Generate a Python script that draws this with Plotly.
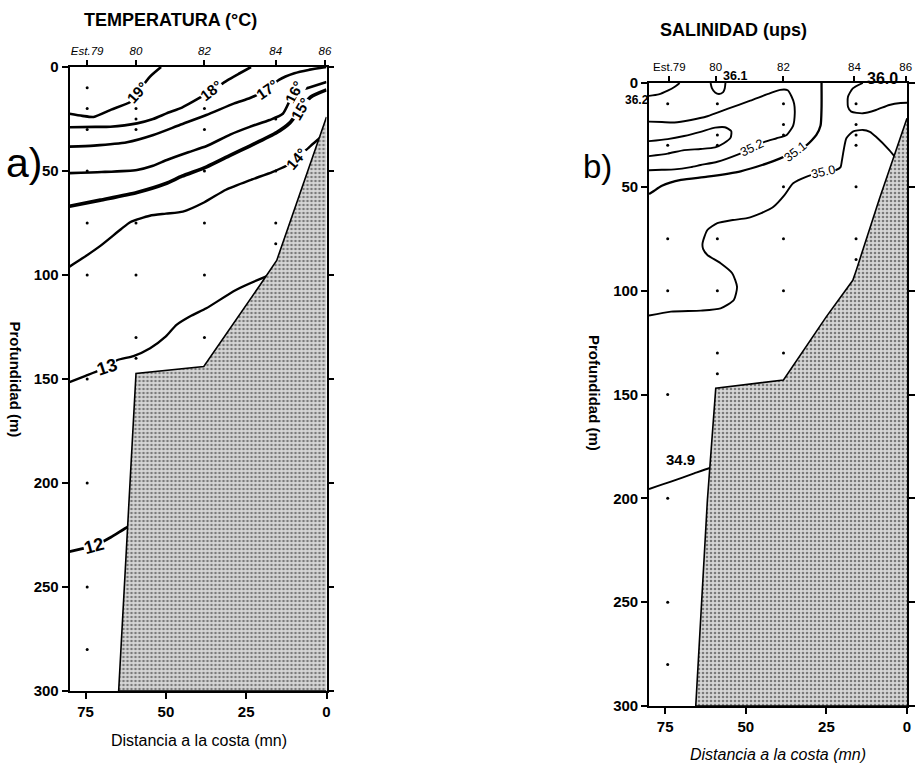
import plotly.graph_objects as go

W, H = 917, 764

# ---------------- stations ----------------
STATION_DIST_A = [74.5, 59.3, 38.0, 15.8, 0.5]
STATION_DIST_B = [73.7, 59.3, 38.3, 16.3, 0.4]
STATION_LABELS = ["Est.79", "80", "82", "84", "86"]

# sampled depths (distance to coast nm, depth m)
SAMPLE_A_DIST = [74.5] * 10 + [59.3] * 7 + [38.0] * 6 + [15.8] * 4
SAMPLE_A_DEPTH = [10, 20, 30, 50, 75, 100, 150, 200, 250, 280,
                  20, 25, 30, 75, 100, 130, 140,
                  20, 30, 50, 75, 100, 130,
                  25, 50, 75, 85]
SAMPLE_B_DIST = [74.2] * 8 + [58.8] * 7 + [38.3] * 7 + [15.8] * 7
SAMPLE_B_DEPTH = [10, 30, 75, 100, 150, 200, 250, 280,
                  10, 25, 30, 75, 100, 130, 140,
                  10, 20, 25, 50, 75, 100, 130,
                  10, 20, 25, 30, 50, 75, 85]

# ---------------- bottom profile ----------------
BOTTOM_A_DIST = [0, 7.4, 15.5, 21, 38.2, 59.3, 61.8, 64.7, 0]
BOTTOM_A_DEPTH = [24, 56.7, 93, 105.5, 144, 147.3, 221, 300, 300]
BOTTOM_B_DIST = [0, 8.6, 15.7, 16.8, 25, 38.3, 59.3, 61.9, 65.5, 0]
BOTTOM_B_DEPTH = [17, 56, 90, 95, 112.5, 143, 147, 201, 300, 300]

# ---------------- isotherms (°C) ----------------
T19_DIST = [80, 76, 72.5, 67, 61, 58.9, 55, 51.5]
T19_DEPTH = [22.5, 23.5, 24, 20.5, 16.7, 12.5, 4.7, 0]
T18_DIST = [80, 72, 67.3, 59, 54, 49.8, 45, 41.6, 35.9, 31, 27, 23.5]
T18_DEPTH = [29, 28.8, 28.7, 27.1, 25, 22.3, 19.5, 16.7, 11.5, 6.5, 3, 0]
T17_DIST = [80, 72.4, 62.1, 53.9, 45.7, 37.4, 28.7, 23.8, 18.5, 14.8, 10, 5.6, 0]
T17_DEPTH = [38.3, 37.8, 36.2, 32.7, 27.9, 23.1, 17.5, 14.9, 11, 6.2, 3, 1.4, 0]
T16_DIST = [80, 70, 59, 54, 49.7, 43, 37.3, 30, 23.9, 17.7, 13.6, 9.9, 5.6, 0]
T16_DEPTH = [51, 50.5, 49.5, 47.5, 44.7, 41, 38, 32.5, 28.8, 25.5, 22.5, 12, 10, 7.2]
T15_DIST = [80, 70.4, 59, 50, 45, 37.3, 30, 23.9, 15.5, 11.5, 8, 4.9, 0]
T15_DEPTH = [67, 64, 60.3, 56, 52.5, 48, 42.5, 38, 31.5, 27, 20, 14.4, 11]
T14_DIST = [80, 76, 70.4, 64, 61, 55, 50, 44.7, 38, 31.3, 24, 16.9, 12.5, 9.3, 5, 2]
T14_DEPTH = [96, 92, 86, 78, 74.5, 71.5, 70.5, 69.5, 65, 59, 54.5, 50.5, 47.5, 44, 38, 34]
T13_DIST = [80, 75, 70.4, 68.3, 65.2, 60.1, 54.9, 50, 46.7, 42, 37.4, 28.2, 18.9, 15]
T13_DEPTH = [151.5, 148.5, 145.7, 144.2, 141, 139, 135.2, 129.5, 124, 119.5, 116, 107.2, 100.8, 98.5]
T12_DIST = [80, 76, 72.4, 67, 61.8, 60]
T12_DEPTH = [233, 231.5, 230.3, 226, 221, 220]

TEMP_LINES = [
    (T19_DIST, T19_DEPTH, 2.6), (T18_DIST, T18_DEPTH, 2.6), (T17_DIST, T17_DEPTH, 2.6),
    (T16_DIST, T16_DEPTH, 2.6), (T15_DIST, T15_DEPTH, 3.6), (T14_DIST, T14_DEPTH, 2.4),
    (T13_DIST, T13_DEPTH, 2.3), (T12_DIST, T12_DEPTH, 2.8),
]

TEMP_LABELS = ["19°", "18°", "17°", "16°", "15°", "14°", "13", "12"]
TEMP_LABEL_DIST = [58.9, 35.9, 18.5, 9.9, 8.0, 9.3, 68.3, 72.4]
TEMP_LABEL_DEPTH = [12.3, 11.5, 11.0, 12.0, 20.0, 44.0, 144.2, 230.3]
TEMP_LABEL_ANGLE = [-48, -38, -35, -64, -60, -50, -18, -15]
TEMP_LABEL_SIZE = [15, 15, 15, 15, 15, 15, 18, 18]

# ---------------- isohalines (ups) ----------------
S362_DIST = [80, 77, 74.2, 72, 70.5]
S362_DEPTH = [6.2, 5.5, 3.7, 1.8, 0]
S361_DIST = [60.9, 60.5, 59.5, 58.3, 57, 56.5, 56.3]
S361_DEPTH = [0, 2.5, 4.6, 5.3, 4.4, 2.5, 0]
S353_DIST = [80, 74.2, 69.1, 64, 59.5, 56.5, 54.5, 54.7, 56.8, 59.5, 64, 69.1, 74.2, 80]
S353_DEPTH = [28, 27, 25.5, 23.5, 21.5, 21.3, 23.2, 26.3, 29, 31, 31.8, 32.3, 34, 35.2]
S352_DIST = [80, 76, 72.1, 67, 61.9, 55.7, 48.6, 42.4, 39.3, 37, 35.8, 35.0, 34.8, 35.3,
             37.3, 40.4, 44, 48.1, 52.1, 58.8, 64, 67, 72.1, 76, 80]
S352_DEPTH = [18.6, 18.8, 19, 17.8, 16, 12.5, 8.5, 4.9, 3.3, 3.5, 6.5, 10, 14.6, 20.5,
              25, 26.6, 28.2, 31.5, 34.2, 37.9, 39.5, 40.5, 41.6, 41.8, 42]
S351_DIST = [80, 78.5, 76, 70.1, 61.9, 51.6, 43.4, 39.3, 34.7, 31.1, 28.1, 26.8, 26.5, 26.5]
S351_DEPTH = [53.5, 52, 49.5, 46.7, 45.1, 42.5, 38.7, 36.3, 33, 29.9, 25, 20.5, 12, 0]
S350_DIST = [80, 73.2, 63.9, 57.8, 53.7, 52.7, 54.2, 57.8, 61.9, 63.2, 63.4, 61.9, 58.8, 54,
             49.6, 45, 41.4, 38, 35.3, 31.1, 26, 22, 20.6, 20.2, 19.6, 18.8, 16.8, 13.7,
             11.5, 9.6, 5.5, 3]
S350_DEPTH = [112, 110.1, 109.6, 108.5, 104.5, 98.1, 91.6, 86.8, 82.8, 80, 77.2, 70.8, 67.5, 66,
              65.1, 62.5, 59.6, 54, 48.3, 45.1, 42.7, 41.9, 40.5, 37.5, 32, 26.6, 23.4, 22.6,
              23.5, 25.9, 32.3, 37]
S360_DIST = [13.7, 16.8, 18.3, 18.3, 17.3, 13.7, 9.6, 5.5, 2, 0]
S360_DEPTH = [0, 2.6, 6.6, 11.4, 13.8, 14.6, 13, 10.6, 9.6, 9.5]
S349_DIST = [80, 73.2, 66, 61.4, 60]
S349_DEPTH = [195.5, 192, 188, 185.5, 185]

SAL_LINES = [
    (S362_DIST, S362_DEPTH, 1.9), (S361_DIST, S361_DEPTH, 1.9), (S353_DIST, S353_DEPTH, 1.9),
    (S352_DIST, S352_DEPTH, 1.9), (S351_DIST, S351_DEPTH, 2.3), (S350_DIST, S350_DEPTH, 1.9),
    (S360_DIST, S360_DEPTH, 1.9), (S349_DIST, S349_DEPTH, 1.9),
]

SAL_LABELS = ["35.2", "35.1", "35.0"]
SAL_LABEL_DIST = [48.1, 34.7, 26.0]
SAL_LABEL_DEPTH = [31.5, 33.1, 42.7]
SAL_LABEL_ANGLE = [-25, -38, -12]

# labels sitting on or beyond the frame
SAL_EDGE_LABELS = ["36.1", "36.2", "36.0", "34.9"]
SAL_EDGE_DIST = [53.2, 83.6, 7.7, 70.1]
SAL_EDGE_DEPTH = [-3.3, 8.0, -2.4, 181.5]
SAL_EDGE_SIZE = [12.5, 12, 16, 15]

FONT = "Liberation Sans"

# frame corners in pixels (left, top, right, bottom)
FRAME_A = (69.5, 67, 326.5, 691)
FRAME_B = (649, 83, 907, 706)
X_RANGE = (80, 0)
Y_RANGE = (300, 0)


def px(x, y):
    return x / W, 1 - y / H


def data_to_paper(frame, dist, depth):
    left, top, right, bottom = frame
    xp = left + (X_RANGE[0] - dist) / (X_RANGE[0] - X_RANGE[1]) * (right - left)
    yp = top + (depth - Y_RANGE[1]) / (Y_RANGE[0] - Y_RANGE[1]) * (bottom - top)
    return px(xp, yp)


fig = go.Figure()

# contour lines
for dist, depth, w in TEMP_LINES:
    fig.add_trace(go.Scatter(x=dist, y=depth, mode="lines", xaxis="x", yaxis="y",
                             line=dict(color="black", width=w, shape="spline", smoothing=0.6),
                             hoverinfo="skip"))
for dist, depth, w in SAL_LINES:
    fig.add_trace(go.Scatter(x=dist, y=depth, mode="lines", xaxis="x2", yaxis="y2",
                             line=dict(color="black", width=w, shape="spline", smoothing=0.6),
                             hoverinfo="skip"))

# sea floor
pattern = dict(shape=".", fgcolor="#1e1e1e", bgcolor="#d6d6d6", size=4, solidity=0.33)
fig.add_trace(go.Scatter(x=BOTTOM_A_DIST, y=BOTTOM_A_DEPTH, xaxis="x", yaxis="y", mode="lines",
                         fill="toself", fillcolor="#d6d6d6", fillpattern=pattern,
                         line=dict(color="black", width=1.6), hoverinfo="skip"))
fig.add_trace(go.Scatter(x=BOTTOM_B_DIST, y=BOTTOM_B_DEPTH, xaxis="x2", yaxis="y2", mode="lines",
                         fill="toself", fillcolor="#d6d6d6", fillpattern=pattern,
                         line=dict(color="black", width=1.6), hoverinfo="skip"))

# sampling points
fig.add_trace(go.Scatter(x=SAMPLE_A_DIST, y=SAMPLE_A_DEPTH, mode="markers", xaxis="x", yaxis="y",
                         marker=dict(color="black", size=3), hoverinfo="skip"))
fig.add_trace(go.Scatter(x=SAMPLE_B_DIST, y=SAMPLE_B_DEPTH, mode="markers", xaxis="x2", yaxis="y2",
                         marker=dict(color="black", size=3), hoverinfo="skip"))

# carriers for the station axes
fig.add_trace(go.Scatter(x=[None], y=[None], xaxis="x3", yaxis="y", hoverinfo="skip"))
fig.add_trace(go.Scatter(x=[None], y=[None], xaxis="x4", yaxis="y2", hoverinfo="skip"))

ann = []
for t, x, y, a, s in zip(TEMP_LABELS, TEMP_LABEL_DIST, TEMP_LABEL_DEPTH, TEMP_LABEL_ANGLE, TEMP_LABEL_SIZE):
    ann.append(dict(text=t, x=x, y=y, xref="x", yref="y", showarrow=False, textangle=a,
                    bgcolor="white", borderpad=0,
                    font=dict(family=FONT, size=s, color="black", weight="bold")))
for t, x, y, a in zip(SAL_LABELS, SAL_LABEL_DIST, SAL_LABEL_DEPTH, SAL_LABEL_ANGLE):
    ann.append(dict(text=t, x=x, y=y, xref="x2", yref="y2", showarrow=False, textangle=a,
                    bgcolor="white", borderpad=0,
                    font=dict(family=FONT, size=12.5, color="black")))
for t, x, y, s in zip(SAL_EDGE_LABELS, SAL_EDGE_DIST, SAL_EDGE_DEPTH, SAL_EDGE_SIZE):
    fx, fy = data_to_paper(FRAME_B, x, y)
    ann.append(dict(text=t, x=fx, y=fy, xref="paper", yref="paper", showarrow=False,
                    xanchor="center", yanchor="middle",
                    font=dict(family=FONT, size=s, color="black", weight="bold")))


# titles, panel letters, axis titles
def text_at(t, x, y, size, weight="normal", style="normal", angle=0):
    fx, fy = px(x, y)
    return dict(text=t, x=fx, y=fy, xref="paper", yref="paper", showarrow=False,
                xanchor="center", yanchor="middle", textangle=angle,
                font=dict(family=FONT, size=size, color="black", weight=weight, style=style))


ann += [
    text_at("TEMPERATURA (°C)", 170, 20, 18, "bold"),
    text_at("SALINIDAD (ups)", 733, 30, 18, "bold"),
    text_at("a)", 24, 163, 41),
    text_at("b)", 597, 166, 33),
    text_at("Profundidad (m)", 15.5, 379, 15, "bold", angle=90),
    text_at("Profundidad (m)", 595, 393, 15, "bold", angle=90),
    text_at("Distancia a la costa (mn)", 199, 740, 16),
    text_at("Distancia a la costa (mn)", 778, 754, 16, style="italic"),
]

tickfont = dict(family=FONT, size=15, color="black", weight="bold")
common_x = dict(range=list(X_RANGE), showgrid=False, zeroline=False, showline=True, linecolor="black",
                linewidth=1.6, mirror=True, ticks="outside", ticklen=6, tickwidth=1.5,
                tickcolor="black", tickvals=[75, 50, 25, 0], tickfont=tickfont, automargin=False)
common_y = dict(range=list(Y_RANGE), showgrid=False, zeroline=False, showline=True, linecolor="black",
                linewidth=1.6, mirror="ticks", ticks="outside", ticklen=6, tickwidth=1.5,
                tickcolor="black", tickvals=[0, 50, 100, 150, 200, 250, 300], tickfont=tickfont,
                automargin=False)
station_axis = dict(range=list(X_RANGE), side="top", showgrid=False, zeroline=False, showline=False,
                    ticks="outside", ticklen=6, tickwidth=1.5, tickcolor="black",
                    ticktext=STATION_LABELS, automargin=False)

a0 = px(FRAME_A[0], FRAME_A[3])
a1 = px(FRAME_A[2], FRAME_A[1])
b0 = px(FRAME_B[0], FRAME_B[3])
b1 = px(FRAME_B[2], FRAME_B[1])

fig.update_layout(
    width=W, height=H, autosize=False,
    margin=dict(l=0, r=0, t=0, b=0, pad=0, autoexpand=False),
    paper_bgcolor="white", plot_bgcolor="white", showlegend=False,
    xaxis=dict(common_x, domain=[a0[0], a1[0]], anchor="y"),
    yaxis=dict(common_y, domain=[a0[1], a1[1]], anchor="x"),
    xaxis2=dict(common_x, domain=[b0[0], b1[0]], anchor="y2"),
    yaxis2=dict(common_y, domain=[b0[1], b1[1]], anchor="x2"),
    xaxis3=dict(station_axis, overlaying="x", anchor="y", tickvals=STATION_DIST_A,
                tickfont=dict(family=FONT, size=11.5, color="black", style="italic")),
    xaxis4=dict(station_axis, overlaying="x2", anchor="y2", tickvals=STATION_DIST_B,
                tickfont=dict(family=FONT, size=11.5, color="black")),
    annotations=ann,
)

fig.write_html("out.html")
